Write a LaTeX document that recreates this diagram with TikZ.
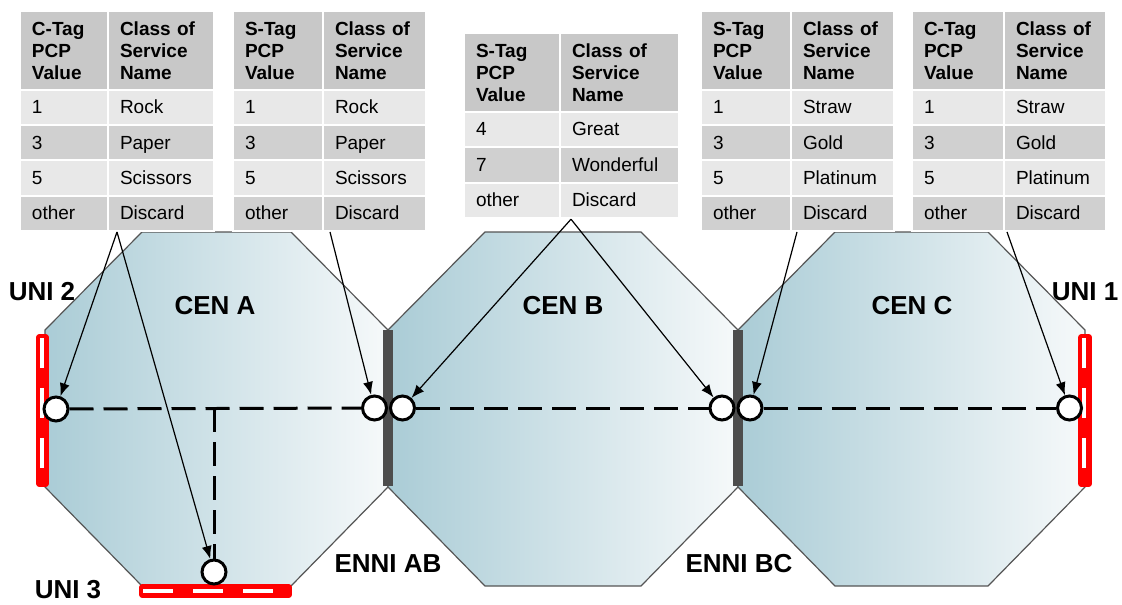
\documentclass[tikz,border=0pt]{standalone}
\usepackage{fontspec}
\setmainfont{Liberation Sans}
\usetikzlibrary{arrows.meta}
\usepackage{xcolor}
\definecolor{hdr}{RGB}{200,200,200}
\definecolor{dark}{RGB}{208,208,208}
\definecolor{lite}{RGB}{232,232,232}
\definecolor{cenleft}{RGB}{170,204,214}
\definecolor{cenright}{RGB}{246,249,250}
\definecolor{octline}{RGB}{85,85,85}
\definecolor{ennigray}{RGB}{77,77,77}

\begin{document}
\begin{tikzpicture}[x=0.5pt, y=-0.5pt,
  cen/.style={draw=octline, line width=0.6pt, left color=cenleft, right color=cenright},
  enni/.style={fill=ennigray},
  unibar/.style={fill=red, draw=red, line width=0.8pt, rounded corners=1pt},
  unidash/.style={white, line width=2pt, dash pattern=on 15pt off 10pt},
  link/.style={line width=1.5pt, dash pattern=on 12pt off 5pt},
  port/.style={circle, draw, fill=white, line width=1.5pt, minimum size=12pt, inner sep=0pt},
  arrow/.style={-{Latex[length=6.5pt,width=5pt]}, line width=0.6pt},
  cell/.style={draw=white, line width=1pt, anchor=north west, inner xsep=6pt, inner ysep=0pt, align=left, minimum height=17.6pt, text height=6.8pt, text depth=0.5pt, font=\fontsize{9.5}{11}\selectfont},
  hcell/.style={cell, fill=hdr, minimum height=39.5pt, text height=, text depth=, font=\fontsize{9.5}{11}\selectfont\bfseries},
  lab/.style={font=\fontsize{13}{15}\selectfont\bfseries}
]
\useasboundingbox (0,0) rectangle (1122,604);

% networks
\draw[cen] (45,330) -- (142,232) -- (291,232) -- (388,330) -- (388,487) -- (291,586) -- (142,586) -- (45,487) -- cycle;
\draw[cen] (388,330) -- (485,232) -- (641,232) -- (738,330) -- (738,487) -- (641,586) -- (485,586) -- (388,487) -- cycle;
\draw[cen] (738,330) -- (835,232) -- (988,232) -- (1085,330) -- (1085,487) -- (988,586) -- (835,586) -- (738,487) -- cycle;
\node[lab] (cenA) at (215,306) {CEN A};
\node[lab] (cenB) at (563,306) {CEN B};
\node[lab] (cenC) at (912,306) {CEN C};

% ENNIs
\fill[enni] (383,330) rectangle (393,486);
\fill[enni] (733,330) rectangle (743,486);
\node[lab] (enniAB) at (388,564) {ENNI AB};
\node[lab] (enniBC) at (739,564) {ENNI BC};

% UNIs
\draw[unibar] (37,335) rectangle (48,486);
\draw[unidash] (41.5,338) -- (41.5,484);
\draw[unibar] (1079,335) rectangle (1091,486);
\draw[unidash] (1084,338) -- (1084,484);
\draw[unibar] (140,585) rectangle (291,597);
\draw[unidash] (143,591) -- (288,591);
\node[lab] (uni2) at (42,292) {UNI 2};
\node[lab] (uni1) at (1085,292) {UNI 1};
\node[lab] (uni3) at (68,590) {UNI 3};

% EVC path
\node[port] (u2) at (56,409) {};
\node[port] (u3) at (214,572) {};
\node[port] (ab1) at (374.5,408) {};
\node[port] (ab2) at (402.5,408) {};
\node[port] (bc1) at (722,408) {};
\node[port] (bc2) at (750,408) {};
\node[port] (u1) at (1069.5,408) {};
\coordinate (turn) at (214,408);
\draw[link] (u2) -- (ab1);
\draw[link] (ab2) -- (bc1);
\draw[link] (bc2) -- (u1);
\draw[link] (turn) -- (u3);

% CoS tables
\node[hcell, text width=32pt] (t1h1) at (19,10) {C-Tag\\PCP\\Value};
\node[hcell, text width=41pt] (t1h2) at (107,10) {Class of\\Service\\Name};
\foreach \v/\n/\c [count=\i] in {1/Rock/lite,3/Paper/dark,5/Scissors/lite,other/Discard/dark} {
  \node[cell, fill=\c, text width=32pt] (t1v\i) at (19,{89+35.25*(\i-1)}) {\v};
  \node[cell, fill=\c, text width=41pt] (t1n\i) at (107,{89+35.25*(\i-1)}) {\n};
}

\node[hcell, text width=33pt] (t2h1) at (232,10) {S-Tag\\PCP\\Value};
\node[hcell, text width=39.5pt] (t2h2) at (322,10) {Class of\\Service\\Name};
\foreach \v/\n/\c [count=\i] in {1/Rock/lite,3/Paper/dark,5/Scissors/lite,other/Discard/dark} {
  \node[cell, fill=\c, text width=33pt] (t2v\i) at (232,{89+35.25*(\i-1)}) {\v};
  \node[cell, fill=\c, text width=39.5pt] (t2n\i) at (322,{89+35.25*(\i-1)}) {\n};
}

\node[hcell, text width=36pt] (t3h1) at (463,32) {S-Tag\\PCP\\Value};
\node[hcell, text width=47.5pt] (t3h2) at (559,32) {Class of\\Service\\Name};
\foreach \v/\n/\c [count=\i] in {4/Great/lite,7/Wonderful/dark,other/Discard/lite} {
  \node[cell, fill=\c, text width=36pt] (t3v\i) at (463,{111+35.5*(\i-1)}) {\v};
  \node[cell, fill=\c, text width=47.5pt] (t3n\i) at (559,{111+35.5*(\i-1)}) {\n};
}

\node[hcell, text width=33pt] (t4h1) at (700,10) {S-Tag\\PCP\\Value};
\node[hcell, text width=39.5pt] (t4h2) at (790,10) {Class of\\Service\\Name};
\foreach \v/\n/\c [count=\i] in {1/Straw/lite,3/Gold/dark,5/Platinum/lite,other/Discard/dark} {
  \node[cell, fill=\c, text width=33pt] (t4v\i) at (700,{89+35.25*(\i-1)}) {\v};
  \node[cell, fill=\c, text width=39.5pt] (t4n\i) at (790,{89+35.25*(\i-1)}) {\n};
}

\node[hcell, text width=34pt] (t5h1) at (911,10) {C-Tag\\PCP\\Value};
\node[hcell, text width=39pt] (t5h2) at (1003,10) {Class of\\Service\\Name};
\foreach \v/\n/\c [count=\i] in {1/Straw/lite,3/Gold/dark,5/Platinum/lite,other/Discard/dark} {
  \node[cell, fill=\c, text width=34pt] (t5v\i) at (911,{89+35.25*(\i-1)}) {\v};
  \node[cell, fill=\c, text width=39pt] (t5n\i) at (1003,{89+35.25*(\i-1)}) {\n};
}

% mappings
\draw[arrow] ([xshift=5pt]t1n4.south west) -- (u2);
\draw[arrow] ([xshift=5pt]t1n4.south west) -- (u3);
\draw[arrow] ([xshift=4pt]t2n4.south west) -- (ab1);
\draw[arrow] ([xshift=6pt]t3n3.south west) -- (ab2);
\draw[arrow] ([xshift=6pt]t3n3.south west) -- (bc1);
\draw[arrow] ([xshift=3.5pt]t4n4.south west) -- (bc2);
\draw[arrow] ([xshift=2pt]t5n4.south west) -- (u1);
\end{tikzpicture}
\end{document}
